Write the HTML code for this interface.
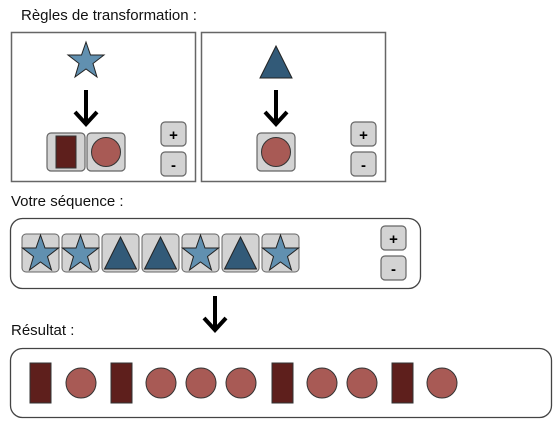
<!DOCTYPE html>
<html><head><style>body{margin:0;background:#fff}svg{display:block}text{font-family:"Liberation Sans",sans-serif}</style></head><body>
<svg width="558" height="425" viewBox="0 0 558 425">
<defs>
<g id="star"><polygon points="0,-19 4.5,-6 18,-6 7,2.5 11,16 0,8 -11,16 -7,2.5 -18,-6 -4.5,-6" fill="#6190b0" stroke="#222" stroke-width="1"/></g>
<g id="tri"><polygon points="0,-16 16,16 -16,16" fill="#325a78" stroke="#222" stroke-width="1"/></g>
<g id="arrow"><line x1="0" y1="0" x2="0" y2="33" stroke="#000" stroke-width="4"/><polyline points="-11,22 0,34 11,22" fill="none" stroke="#000" stroke-width="4"/></g>
<g id="btn"><rect x="0" y="0" width="25" height="24" rx="4" fill="#d3d3d3" stroke="#666" stroke-width="1.2"/></g>
</defs>
<text x="21" y="20" font-size="15" fill="#111">Règles de transformation :</text>
<rect x="11.5" y="32.5" width="184" height="149" fill="#fff" stroke="#666" stroke-width="1.5"/>
<rect x="201.5" y="32.5" width="184" height="149" fill="#fff" stroke="#666" stroke-width="1.5"/>
<use href="#star" x="86" y="61"/>
<use href="#arrow" x="86" y="90"/>
<rect x="47" y="133" width="38" height="38" rx="4" fill="#d3d3d3" stroke="#666" stroke-width="1.2"/>
<rect x="56" y="136" width="20" height="32" fill="#5e1f1c" stroke="#333"/>
<rect x="87" y="133" width="38" height="38" rx="4" fill="#d3d3d3" stroke="#666" stroke-width="1.2"/>
<circle cx="106" cy="152" r="14.5" fill="#a85a55" stroke="#333"/>
<use href="#btn" x="161" y="122"/><text x="173.5" y="140" font-size="15" font-weight="bold" text-anchor="middle">+</text>
<use href="#btn" x="161" y="152"/><text x="173.5" y="170" font-size="15" font-weight="bold" text-anchor="middle">-</text>
<use href="#tri" x="276" y="62"/>
<use href="#arrow" x="276" y="90"/>
<rect x="257" y="133" width="38" height="38" rx="4" fill="#d3d3d3" stroke="#666" stroke-width="1.2"/>
<circle cx="276" cy="152" r="14.5" fill="#a85a55" stroke="#333"/>
<use href="#btn" x="351" y="122"/><text x="363.5" y="140" font-size="15" font-weight="bold" text-anchor="middle">+</text>
<use href="#btn" x="351" y="152"/><text x="363.5" y="170" font-size="15" font-weight="bold" text-anchor="middle">-</text>

<text x="11" y="206" font-size="15" fill="#111">Votre séquence :</text>
<rect x="10.5" y="218.5" width="410" height="70" rx="12" fill="#fff" stroke="#444" stroke-width="1.3"/>
<g>
<rect x="22" y="234" width="37" height="38" rx="4" fill="#d3d3d3" stroke="#666"/><use href="#star" x="40.5" y="254"/>
<rect x="62" y="234" width="37" height="38" rx="4" fill="#d3d3d3" stroke="#666"/><use href="#star" x="80.5" y="254"/>
<rect x="102" y="234" width="37" height="38" rx="4" fill="#d3d3d3" stroke="#666"/><use href="#tri" x="120.5" y="253"/>
<rect x="142" y="234" width="37" height="38" rx="4" fill="#d3d3d3" stroke="#666"/><use href="#tri" x="160.5" y="253"/>
<rect x="182" y="234" width="37" height="38" rx="4" fill="#d3d3d3" stroke="#666"/><use href="#star" x="200.5" y="254"/>
<rect x="222" y="234" width="37" height="38" rx="4" fill="#d3d3d3" stroke="#666"/><use href="#tri" x="240.5" y="253"/>
<rect x="262" y="234" width="37" height="38" rx="4" fill="#d3d3d3" stroke="#666"/><use href="#star" x="280.5" y="254"/>
</g>
<use href="#btn" x="381" y="226"/><text x="393.5" y="244" font-size="15" font-weight="bold" text-anchor="middle">+</text>
<use href="#btn" x="381" y="256"/><text x="393.5" y="274" font-size="15" font-weight="bold" text-anchor="middle">-</text>

<use href="#arrow" x="215" y="296"/>
<text x="11" y="335" font-size="15" fill="#111">Résultat :</text>
<rect x="10.5" y="348.5" width="541" height="69" rx="12" fill="#fff" stroke="#444" stroke-width="1.3"/>
<g fill="#5e1f1c" stroke="#333">
<rect x="30" y="363" width="21" height="40"/><rect x="111" y="363" width="21" height="40"/><rect x="272" y="363" width="21" height="40"/><rect x="392" y="363" width="21" height="40"/>
</g>
<g fill="#a85a55" stroke="#333">
<circle cx="81" cy="383" r="15"/><circle cx="161" cy="383" r="15"/><circle cx="201" cy="383" r="15"/><circle cx="241" cy="383" r="15"/><circle cx="322" cy="383" r="15"/><circle cx="362" cy="383" r="15"/><circle cx="442" cy="383" r="15"/>
</g>
</svg>
</body></html>
